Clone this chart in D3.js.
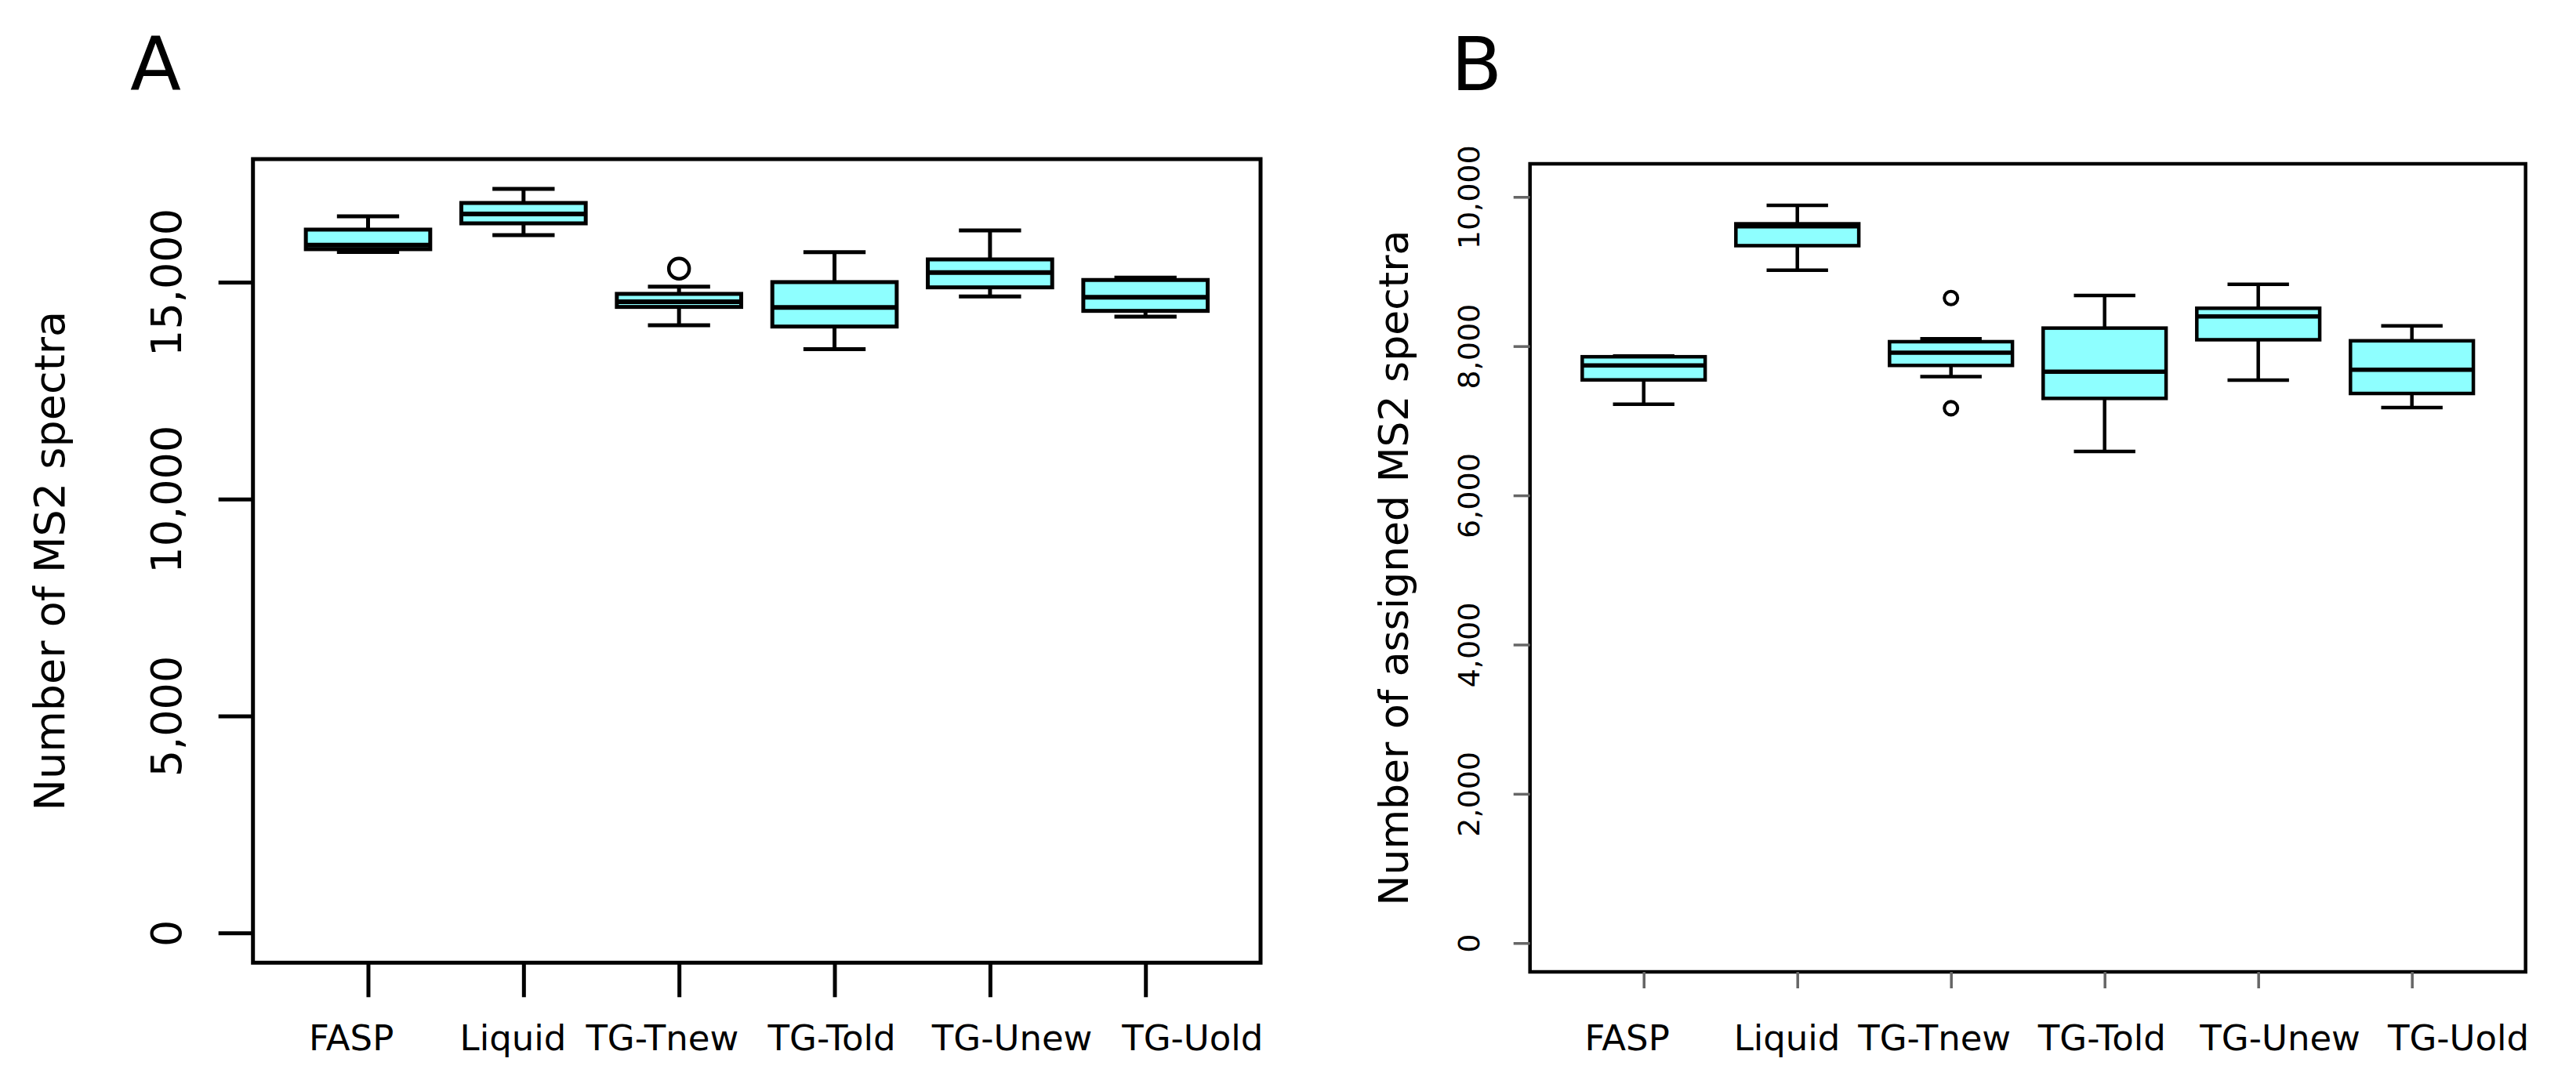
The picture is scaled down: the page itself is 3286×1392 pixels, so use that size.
<!DOCTYPE html>
<html>
<head>
<meta charset="utf-8">
<script src="https://cdn.jsdelivr.net/npm/d3@7"></script>
<style>
  body { margin: 0; background: #fff; }
  svg { display: block; font-family: "DejaVu Sans", sans-serif; }
</style>
</head>
<body>
<svg id="chart" width="3286" height="1392"></svg>
<script>
// categories shared by both panels
var categories = ["FASP", "Liquid", "TG-Tnew", "TG-Told", "TG-Unew", "TG-Uold"];

// panel A - number of MS2 spectra
var msLow    = [15696, 16083, 14007, 13453, 14670, 14206];
var msQ1     = [15759, 16354, 14428, 13976, 14879, 14337];
var msMedian = [15854, 16571, 14548, 14417, 15222, 14652];
var msQ3     = [16210, 16824, 14729, 15000, 15523, 15049];
var msHigh   = [16517, 17149, 14897, 15692, 16191, 15103];
var msOutliers = [[], [], [15312], [], [], []];
var msTicks = [0, 5000, 10000, 15000];

// panel B - number of assigned MS2 spectra
var asLow    = [7222, 9019, 7592, 6590, 7544, 7178];
var asQ1     = [7548, 9347, 7742, 7300, 8086, 7366];
var asMedian = [7742, 9605, 7913, 7658, 8398, 7684];
var asQ3     = [7858, 9640, 8060, 8242, 8508, 8072];
var asHigh   = [7868, 9888, 8100, 8680, 8830, 8272];
var asOutliers = [[], [], [8645, 7168], [], [], []];
var asTicks = [0, 2000, 4000, 6000, 8000, 10000];

var svg = d3.select("#chart");
var fmt = d3.format(",");

// the category names sit a little off their ticks in the original (spread wider)
var labelShift = [-0.11, -0.07, -0.11, -0.02, 0.14, 0.30];

function makeRows(low, q1, med, q3, high, outs) {
    return categories.map(function (c, i) {
        return {name: c, idx: i + 1, low: low[i], q1: q1[i], med: med[i], q3: q3[i], high: high[i], outs: outs[i]};
    });
}

function panel(opt) {
    var rows = makeRows(opt.low, opt.q1, opt.med, opt.q3, opt.high, opt.outs);

    var x = d3.scaleLinear().domain([0.26, 6.74]).range([opt.left, opt.right]);
    var y = d3.scaleLinear().domain(opt.ydomain).range([opt.bottom, opt.top]);
    var step = x(2) - x(1);
    var boxW = step * 0.8;
    var capW = boxW / 2;

    var g = svg.append("g");

    // boxes
    var box = g.selectAll(".box").data(rows).enter().append("g");

    box.append("line")
        .attr("x1", d => x(d.idx)).attr("x2", d => x(d.idx))
        .attr("y1", d => y(d.high)).attr("y2", d => y(d.q3))
        .attr("stroke", "#000").attr("stroke-width", opt.lw);
    box.append("line")
        .attr("x1", d => x(d.idx)).attr("x2", d => x(d.idx))
        .attr("y1", d => y(d.q1)).attr("y2", d => y(d.low))
        .attr("stroke", "#000").attr("stroke-width", opt.lw);
    box.append("line")
        .attr("x1", d => x(d.idx) - capW / 2).attr("x2", d => x(d.idx) + capW / 2)
        .attr("y1", d => y(d.high)).attr("y2", d => y(d.high))
        .attr("stroke", "#000").attr("stroke-width", opt.lw);
    box.append("line")
        .attr("x1", d => x(d.idx) - capW / 2).attr("x2", d => x(d.idx) + capW / 2)
        .attr("y1", d => y(d.low)).attr("y2", d => y(d.low))
        .attr("stroke", "#000").attr("stroke-width", opt.lw);
    box.append("rect")
        .attr("x", d => x(d.idx) - boxW / 2)
        .attr("width", boxW)
        .attr("y", d => y(d.q3))
        .attr("height", d => y(d.q1) - y(d.q3))
        .attr("fill", "#8effff")
        .attr("stroke", "#000").attr("stroke-width", opt.lw);
    box.append("line")
        .attr("x1", d => x(d.idx) - boxW / 2).attr("x2", d => x(d.idx) + boxW / 2)
        .attr("y1", d => y(d.med)).attr("y2", d => y(d.med))
        .attr("stroke", "#000").attr("stroke-width", opt.medlw);

    // outliers
    box.selectAll("circle")
        .data(d => d.outs.map(v => ({idx: d.idx, v: v})))
        .enter().append("circle")
        .attr("cx", d => x(d.idx))
        .attr("cy", d => y(d.v))
        .attr("r", opt.pr)
        .attr("fill", "none")
        .attr("stroke", "#000").attr("stroke-width", opt.lw * 0.9);

    // frame
    g.append("rect")
        .attr("x", opt.left).attr("y", opt.top)
        .attr("width", opt.right - opt.left)
        .attr("height", opt.bottom - opt.top)
        .attr("fill", "none")
        .attr("stroke", "#000").attr("stroke-width", opt.lw);

    // y axis
    var yAxis = d3.axisLeft(y).tickValues(opt.ticks).tickSize(opt.tick).tickFormat(fmt);
    var ya = g.append("g")
        .attr("transform", `translate(${opt.left},0)`)
        .call(yAxis);
    ya.select(".domain").remove();
    ya.selectAll(".tick line").attr("stroke", opt.tickColor).attr("stroke-width", opt.tlw);
    ya.selectAll(".tick text")
        .attr("x", null).attr("dy", null)
        .attr("transform", `translate(${opt.ylabX - opt.left},0) rotate(-90)`)
        .attr("text-anchor", "middle")
        .attr("fill", "#000")
        .style("font-size", opt.yfs + "px")
        .style("font-family", "DejaVu Sans");

    // x axis
    var xAxis = d3.axisBottom(x).tickValues(d3.range(1, 7)).tickSize(opt.tick)
        .tickFormat(d => categories[d - 1]);
    var xa = g.append("g")
        .attr("transform", `translate(0,${opt.bottom})`)
        .call(xAxis);
    xa.select(".domain").remove();
    xa.selectAll(".tick line").attr("stroke", opt.tickColor).attr("stroke-width", opt.tlw);
    xa.selectAll(".tick text")
        .attr("x", d => labelShift[d - 1] * step)
        .attr("y", opt.xlabY - opt.bottom).attr("dy", null)
        .attr("fill", "#000")
        .style("font-size", "45px")
        .style("font-family", "DejaVu Sans");

    // axis title
    svg.append("text")
        .attr("transform", `translate(${opt.titleX},${(opt.top + opt.bottom) / 2}) rotate(-90)`)
        .attr("text-anchor", "middle")
        .style("font-size", opt.tfs + "px")
        .text(opt.title);

    // panel letter
    svg.append("text")
        .attr("x", opt.letterX).attr("y", 115)
        .style("font-size", "95px")
        .text(opt.letter);
}

panel({
    letter: "A", letterX: 166,
    title: "Number of MS2 spectra", titleX: 82, tfs: 54,
    low: msLow, q1: msQ1, med: msMedian, q3: msQ3, high: msHigh, outs: msOutliers,
    ticks: msTicks, ydomain: [-686, 17835],
    left: 322.7, right: 1608, top: 203, bottom: 1228.3,
    lw: 5, medlw: 6, tlw: 5, tick: 44, tickColor: "#000", pr: 13,
    ylabX: 231, yfs: 54, xlabY: 1340
});

panel({
    letter: "B", letterX: 1851,
    title: "Number of assigned MS2 spectra", titleX: 1796, tfs: 52,
    low: asLow, q1: asQ1, med: asMedian, q3: asQ3, high: asHigh, outs: asOutliers,
    ticks: asTicks, ydomain: [-386, 10444],
    left: 1951.7, right: 3221.7, top: 209, bottom: 1240,
    lw: 4.5, medlw: 5.5, tlw: 3.5, tick: 21, tickColor: "#666", pr: 8.5,
    ylabX: 1887, yfs: 38, xlabY: 1340
});
</script>
</body>
</html>
